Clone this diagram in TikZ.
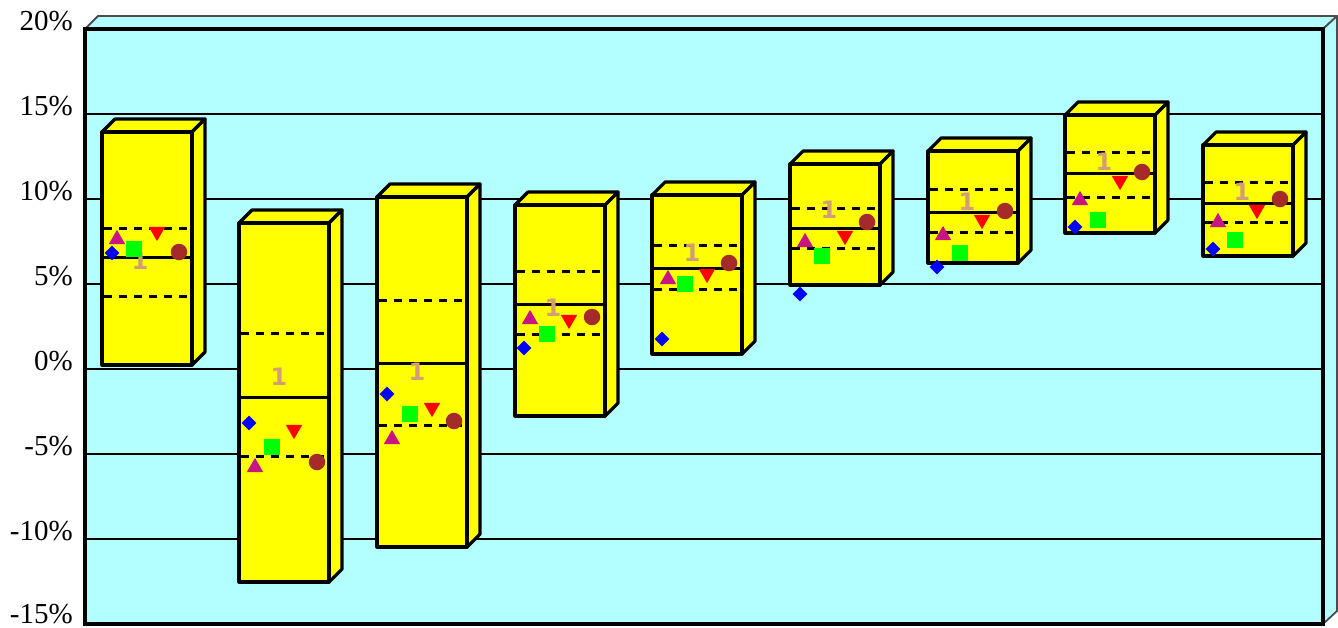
\documentclass[tikz,border=0pt]{standalone}
\usepackage{fontspec}
\setmainfont{Liberation Serif}
\newfontfamily\lblfont{DejaVu Sans}
\usetikzlibrary{shapes.geometric}
\definecolor{plotbg}{RGB}{179,255,255}
\definecolor{boxy}{RGB}{255,255,0}
\definecolor{mviolet}{RGB}{199,21,133}
\definecolor{mbrown}{RGB}{165,42,42}
\definecolor{tanlbl}{RGB}{210,158,118}
\definecolor{mgreen}{RGB}{0,255,0}
\definecolor{mblue}{RGB}{0,0,255}
\definecolor{mred}{RGB}{255,0,0}
\tikzset{
  frameln/.style={line width=3.4pt, line join=miter},
  backst/.style={fill=plotbg, draw=black!70, line width=1.8pt, line join=round},
  gridln/.style={line width=1.5pt, black},
  boxst/.style={fill=boxy, draw=black, line width=3.2pt, line join=round},
  medln/.style={line width=3pt, black},
  dashln/.style={line width=3pt, black, dash pattern=on 8pt off 7pt},
  axlbl/.style={anchor=base east, inner sep=0pt, font=\fontsize{29}{29}\selectfont},
  numlbl/.style={inner sep=0pt, text=tanlbl, font=\lblfont\bfseries\fontsize{24}{24}\selectfont},
  mdia/.style={diamond, aspect=1, minimum width=15pt, minimum height=15pt, inner sep=0pt, fill=mblue},
  mup/.style={regular polygon, regular polygon sides=3, minimum size=19pt, inner sep=0pt, fill=mviolet, yshift=-2.4pt},
  mdown/.style={regular polygon, regular polygon sides=3, shape border rotate=180, minimum size=19pt, inner sep=0pt, fill=mred, yshift=2.4pt},
  msq/.style={rectangle, minimum size=16pt, inner sep=0pt, fill=mgreen},
  mcirc/.style={circle, minimum size=16.5pt, inner sep=0pt, fill=mbrown},
}
\newcommand\candlebox[6]{%
  \pgfmathsetmacro\xr{#1+90}%
  \filldraw[boxst] (#1,#2) -- (#1+13,#2-13) -- (\xr+13,#2-13) -- (\xr,#2) -- cycle;
  \filldraw[boxst] (\xr,#2) -- (\xr+13,#2-13) -- (\xr+13,#3-13) -- (\xr,#3) -- cycle;
  \filldraw[boxst] (#1,#2) rectangle (\xr,#3);
  \draw[dashln] (#1+2,#4) -- (\xr-2,#4);
  \draw[medln] (#1,#5) -- (\xr,#5);
  \draw[dashln] (#1+2,#6) -- (\xr-2,#6);
}
\begin{document}
\begin{tikzpicture}[x=1pt,y=-1pt]
\useasboundingbox (0,0) rectangle (1338,627);
% plot area
\fill[plotbg] (85,29) rectangle (1323,624);
\filldraw[backst] (85,29) -- (98,16) -- (1337,16) -- (1323,29) -- cycle;
\filldraw[backst] (1323,29) -- (1337,16) -- (1337,611) -- (1323,624) -- cycle;
\foreach \gy in {114,199,284,369,454,539}
  \draw[gridln] (85,\gy) -- (1323,\gy);
\draw[frameln] (85,29) rectangle (1323,624);
% axis labels
\node[axlbl] (y20) at (73,30) {20\%};
\node[axlbl] (y15) at (73,115) {15\%};
\node[axlbl] (y10) at (73,200) {10\%};
\node[axlbl] (y5) at (73,285) {5\%};
\node[axlbl] (y0) at (73,370) {0\%};
\node[axlbl] (ym5) at (73,455) {-5\%};
\node[axlbl] (ym10) at (73,540) {-10\%};
\node[axlbl] (ym15) at (73,623) {-15\%};
% boxes
\candlebox{102}{132}{365}{228}{257}{296}
\candlebox{239}{223}{582}{333}{397}{456}
\candlebox{377}{197}{547}{300}{363}{425}
\candlebox{515}{205}{416}{271}{304}{334}
\candlebox{652}{195}{354}{245}{268}{289}
\candlebox{790}{164}{285}{208}{228}{248}
\candlebox{928}{151}{263}{189}{212}{232}
\candlebox{1065}{115}{233}{152}{173}{197}
\candlebox{1203}{145}{256}{182}{203}{222}
% labels
\foreach \i/\lx/\ly in {1/140/261, 2/279/377, 3/417/372, 4/553/308, 5/692/253,
                        6/829/210, 7/967/202, 8/1104/162, 9/1242/192}
  \node[numlbl] (lbl\i) at (\lx,\ly) {1};
% markers
\foreach \i/\dx/\dy/\ux/\uy/\sx/\sy/\tx/\ty/\cx/\cy in {
  1/112/253/117/237/134/249/157/234/179/252,
  2/249/423/255/465/272/447/294/432/317/462,
  3/387/394/392/437/410/414/432/410/454/421,
  4/524/348/530/317/547/334/569/322/592/317,
  5/662/339/668/277/685/284/707/276/729/263,
  6/800/294/805/240/822/256/845/238/867/222,
  7/937/267/943/233/960/253/982/222/1005/211,
  8/1075/227/1080/198/1098/220/1120/183/1142/172,
  9/1213/249/1218/220/1235/240/1257/212/1280/199}{
  \node[mdia] (dia\i) at (\dx,\dy) {};
  \node[mup] (up\i) at (\ux,\uy) {};
  \node[msq] (sq\i) at (\sx,\sy) {};
  \node[mdown] (dn\i) at (\tx,\ty) {};
  \node[mcirc] (ci\i) at (\cx,\cy) {};
}
\end{tikzpicture}
\end{document}
